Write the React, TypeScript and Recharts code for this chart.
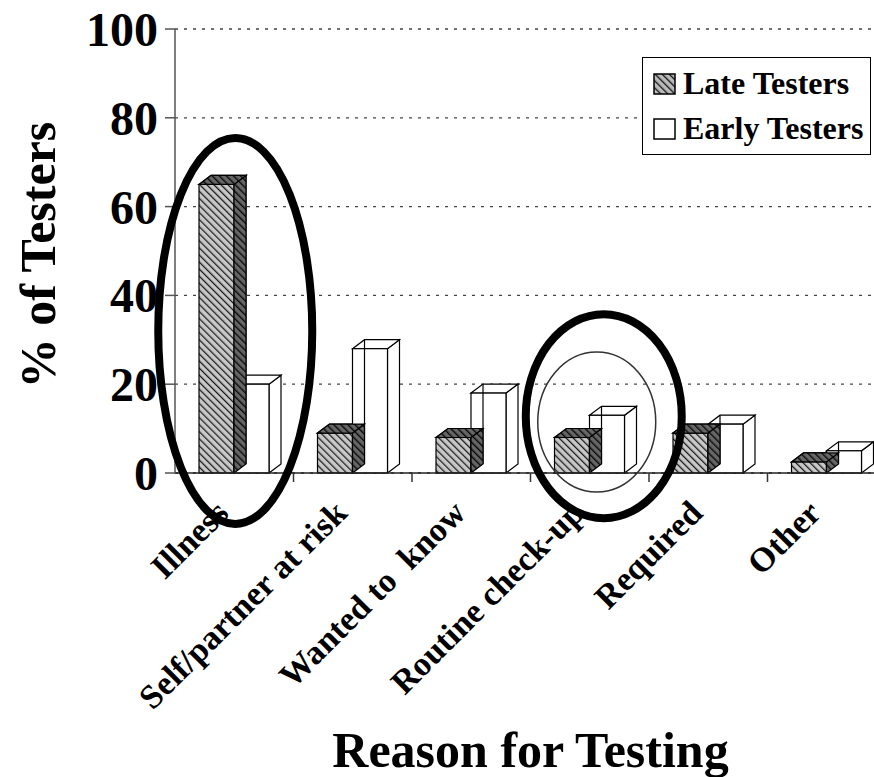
import React from "react";
import { BarChart, Bar, XAxis, YAxis, CartesianGrid, Legend, ReferenceDot } from "recharts";

const FONT = '"Liberation Serif", "Times New Roman", serif';

const reasons = ["Illness", "Self/partner at risk", "Wanted to  know", "Routine check-up", "Required", "Other"];
const lateTesters = [65, 9, 8, 8, 9, 2.5];
const earlyTesters = [20, 28, 18, 13, 11, 5];
const yTicks = [0, 20, 40, 60, 80, 100];

// hand-drawn circles over the original figure (category, value, x shift)
const ovals = [
  { reason: "Illness", value: 32, shift: 1, rx: 77, ry: 193, width: 8, color: "#000" },
  { reason: "Routine check-up", value: 12.8, shift: 14, rx: 78, ry: 102, width: 8, color: "#000" },
  { reason: "Routine check-up", value: 11.5, shift: 7, rx: 59, ry: 70, width: 1.5, color: "#333" },
];

const data = reasons.map((reason, i) => ({ reason, late: lateTesters[i], early: earlyTesters[i] }));

const DX = 12;
const DY = 9;

function box(x: number, y: number, w: number, h: number, front: string, side: string, top: string) {
  return (
    <g>
      <polygon
        points={`${x + w},${y} ${x + w + DX},${y - DY} ${x + w + DX},${y + h - DY} ${x + w},${y + h}`}
        fill={side}
        stroke="#000"
        strokeWidth={1.2}
      />
      <polygon
        points={`${x},${y} ${x + DX},${y - DY} ${x + w + DX},${y - DY} ${x + w},${y}`}
        fill={top}
        stroke="#000"
        strokeWidth={1.2}
      />
      <rect x={x} y={y} width={w} height={h} fill={front} stroke="#000" strokeWidth={1.2} />
    </g>
  );
}

function LateShape(props: any) {
  const { x, y, width, height } = props;
  return box(x, y, width, height, "url(#hatch)", "url(#hatchDark)", "url(#hatchDark)");
}

function EarlyShape(props: any) {
  const { x, y, width, height, payload } = props;
  const base = y + height;
  const unit = payload.early ? height / payload.early : 0;
  const lt = base - payload.late * unit;
  return (
    <g>
      {box(x, y, width, height, "#fff", "#fff", "#fff")}
      <line x1={x + DX} y1={y - DY} x2={x + DX} y2={base - DY} stroke="#000" strokeWidth={1.2} />
      {/* the late column stands in front of this one: redraw its side and top */}
      <polygon
        points={`${x},${lt} ${x + DX},${lt - DY} ${x + DX},${base - DY} ${x},${base}`}
        fill="url(#hatchDark)"
        stroke="#000"
        strokeWidth={1.2}
      />
      <polygon
        points={`${x - width},${lt} ${x - width + DX},${lt - DY} ${x + DX},${lt - DY} ${x},${lt}`}
        fill="url(#hatchDark)"
        stroke="#000"
        strokeWidth={1.2}
      />
    </g>
  );
}

function CategoryTick(props: any) {
  const { x, y, payload, width, visibleTicksCount } = props;
  const half = payload?.offset || width / (visibleTicksCount * 2);
  const tx = x - 4;
  const ty = y + 42;
  return (
    <g>
      <line x1={x + half} y1={y} x2={x + half} y2={y + 9} stroke="#333" strokeWidth={1.5} />
      <text
        x={tx}
        y={ty}
        textAnchor="end"
        transform={`rotate(-45, ${tx}, ${ty})`}
        fontFamily={FONT}
        fontWeight="bold"
        fontSize={34}
        fill="#000"
        style={{ whiteSpace: "pre" }}
      >
        {payload.value}
      </text>
    </g>
  );
}

function LegendBox() {
  const items = [
    { label: "Late Testers", fill: "url(#legHatch)" },
    { label: "Early Testers", fill: "#fff" },
  ];
  return (
    <div
      style={{
        border: "1.5px solid #000",
        background: "#fff",
        padding: "3px 0 3px 10px",
        fontFamily: FONT,
        fontWeight: "bold",
        fontSize: 32,
        lineHeight: "45px",
        color: "#000",
      }}
    >
      {items.map((it) => (
        <div key={it.label} style={{ display: "flex", alignItems: "center", whiteSpace: "nowrap" }}>
          <svg width={24} height={22} style={{ marginRight: 6 }}>
            <defs>
              <pattern id="legHatch" width={5} height={5} patternUnits="userSpaceOnUse" patternTransform="rotate(-45)">
                <rect width={5} height={5} fill="#bbb" />
                <line x1={0} y1={0} x2={0} y2={5} stroke="#111" strokeWidth={2.6} />
              </pattern>
            </defs>
            <rect x={1} y={1} width={21} height={20} fill={it.fill} stroke="#000" strokeWidth={1.5} />
          </svg>
          {it.label}
        </div>
      ))}
    </div>
  );
}

export default function App() {
  return (
    <div
      style={{
        position: "fixed",
        left: 0,
        top: 0,
        width: 874,
        height: 777,
        overflow: "hidden",
        background: "#fff",
      }}
    >
      <BarChart
        width={900}
        height={777}
        data={data}
        margin={{ top: 29, right: 14, bottom: 0, left: 0 }}
        barGap={0}
        barSize={35}
      >
        <defs>
          <pattern id="hatch" width={5} height={5} patternUnits="userSpaceOnUse" patternTransform="rotate(-45)">
            <rect width={5} height={5} fill="#c8c8c8" />
            <line x1={0} y1={0} x2={0} y2={5} stroke="#1a1a1a" strokeWidth={2.5} />
          </pattern>
          <pattern id="hatchDark" width={5} height={5} patternUnits="userSpaceOnUse" patternTransform="rotate(-45)">
            <rect width={5} height={5} fill="#666" />
            <line x1={0} y1={0} x2={0} y2={5} stroke="#0a0a0a" strokeWidth={2.8} />
          </pattern>
        </defs>
        <CartesianGrid vertical={false} stroke="#444" strokeDasharray="3 6" strokeWidth={1.3} />
        <XAxis
          dataKey="reason"
          height={304}
          tickSize={0}
          tickMargin={0}
          interval={0}
          axisLine={{ stroke: "#222", strokeWidth: 1.5 }}
          tick={<CategoryTick />}
          label={{
            content: (p: any) => {
              const vb = p.viewBox;
              return (
                <text
                  x={vb.x + vb.width / 2}
                  y={vb.y + 294}
                  textAnchor="middle"
                  fontFamily={FONT}
                  fontWeight="bold"
                  fontSize={50}
                  fill="#000"
                >
                  Reason for Testing
                </text>
              );
            },
          }}
        />
        <YAxis
          width={175}
          domain={[0, 100]}
          ticks={yTicks}
          interval={0}
          tickSize={10}
          tickMargin={7}
          axisLine={{ stroke: "#555", strokeWidth: 1.5 }}
          tickLine={{ stroke: "#555", strokeWidth: 1.5 }}
          tick={{ fontFamily: FONT, fontWeight: "bold", fontSize: 48, fill: "#000" }}
          label={{
            content: (p: any) => {
              const vb = p.viewBox;
              const cx = vb.x + 55;
              const cy = vb.y + vb.height / 2 + 4;
              return (
                <text
                  x={cx}
                  y={cy}
                  transform={`rotate(-90, ${cx}, ${cy})`}
                  textAnchor="middle"
                  fontFamily={FONT}
                  fontWeight="bold"
                  fontSize={50}
                  fill="#000"
                >
                  % of Testers
                </text>
              );
            },
          }}
        />
        <Legend
          layout="vertical"
          align="center"
          verticalAlign="middle"
          content={<LegendBox />}
          wrapperStyle={{ top: 57, left: 642, width: 229 }}
        />
        <Bar dataKey="late" name="Late Testers" shape={<LateShape />} isAnimationActive={false} />
        <Bar dataKey="early" name="Early Testers" shape={<EarlyShape />} isAnimationActive={false} />
        {ovals.map((o, i) => (
          <ReferenceDot
            key={i}
            x={o.reason}
            y={o.value}
            ifOverflow="visible"
            shape={(p: any) => (
              <ellipse
                cx={p.cx + o.shift}
                cy={p.cy}
                rx={o.rx}
                ry={o.ry}
                fill="none"
                stroke={o.color}
                strokeWidth={o.width}
              />
            )}
          />
        ))}
      </BarChart>
    </div>
  );
}
